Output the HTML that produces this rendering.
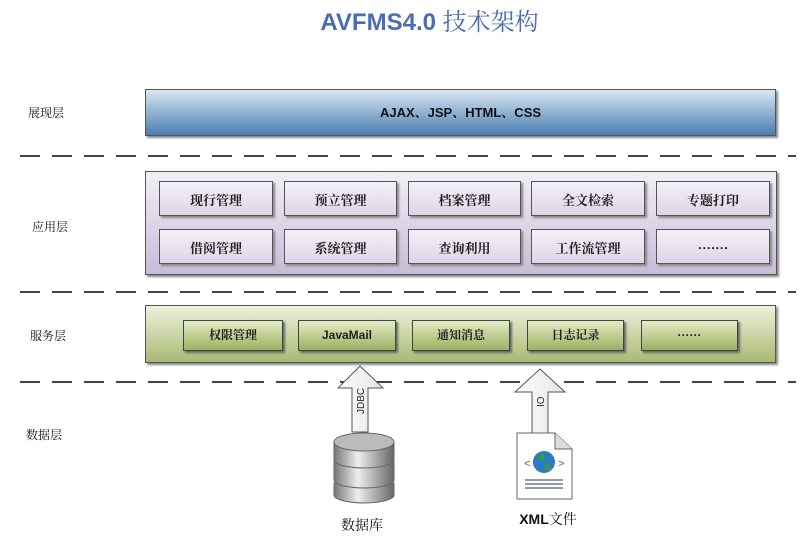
<!DOCTYPE html>
<html><head><meta charset="utf-8"><style>
body{margin:0;width:809px;height:542px;background:#fff;position:relative;overflow:hidden;font-family:"Liberation Sans","Noto Serif CJK SC","Noto Sans CJK SC",sans-serif}
.a{position:absolute}
.lbl{position:absolute;font-size:12px;color:#111;font-family:"Noto Serif CJK SC","Noto Sans CJK SC",serif}
.pb{position:absolute;height:35px;border:1px solid #555;background:linear-gradient(#f4f1f8,#ddd5e8);box-shadow:2px 2px 2px #888;font-size:13px;text-align:center;line-height:35px;color:#222;font-family:"Noto Serif CJK SC",serif;font-weight:bold;box-sizing:border-box}
.gb{position:absolute;height:31px;top:320px;border:1px solid #444;background:linear-gradient(#e3ecc4,#9cb061);box-shadow:2px 2px 2px #666;font-size:12px;text-align:center;line-height:29px;color:#222;box-sizing:border-box;font-weight:bold}
</style></head><body>
<div class="a" style="left:0;width:809px;top:2px;text-align:center;font-size:24px;font-weight:bold;color:#4a6cb3;padding-left:50px;box-sizing:border-box">AVFMS4.0 <span style="font-family:'Noto Serif CJK SC',serif;font-weight:normal">技术架构</span></div>
<div class="lbl" style="left:28px;top:104px">展现层</div>
<div class="lbl" style="left:32px;top:218px">应用层</div>
<div class="lbl" style="left:30px;top:327px">服务层</div>
<div class="lbl" style="left:26px;top:426px">数据层</div>
<div class="a" style="left:145px;top:89px;width:631px;height:47px;border:1px solid #555;box-sizing:border-box;background:linear-gradient(#d8e6f2,#4a7db0);box-shadow:2px 2px 2px #888;text-align:center;line-height:46px;font-size:13px;font-weight:bold;color:#111">AJAX、JSP、HTML、CSS</div>
<div class="a" style="left:145px;top:171px;width:632px;height:104px;border:1px solid #555;box-sizing:border-box;background:linear-gradient(#f2eff7,#c8bcd8);box-shadow:2px 2px 2px #888"></div>
<div class="pb" style="left:159px;top:181px;width:114px">现行管理</div>
<div class="pb" style="left:284px;top:181px;width:113px">预立管理</div>
<div class="pb" style="left:408px;top:181px;width:113px">档案管理</div>
<div class="pb" style="left:531px;top:181px;width:114px">全文检索</div>
<div class="pb" style="left:656px;top:181px;width:114px">专题打印</div>
<div class="pb" style="left:159px;top:229px;width:114px">借阅管理</div>
<div class="pb" style="left:284px;top:229px;width:113px">系统管理</div>
<div class="pb" style="left:408px;top:229px;width:113px">查询利用</div>
<div class="pb" style="left:531px;top:229px;width:114px">工作流管理</div>
<div class="pb" style="left:656px;top:229px;width:114px">·······</div>
<div class="a" style="left:145px;top:305px;width:631px;height:58px;border:1px solid #555;box-sizing:border-box;background:linear-gradient(#eef2dc,#a9ba73);box-shadow:2px 2px 2px #888"></div>
<div class="gb" style="left:183px;width:100px">权限管理</div>
<div class="gb" style="left:298px;width:98px">JavaMail</div>
<div class="gb" style="left:412px;width:98px">通知消息</div>
<div class="gb" style="left:527px;width:97px">日志记录</div>
<div class="gb" style="left:641px;width:97px">······</div>
<svg class="a" style="left:0;top:0" width="809" height="542">
<defs><linearGradient id="ar" x1="0" x2="1"><stop offset="0" stop-color="#fff"/><stop offset="1" stop-color="#e4e4e4"/></linearGradient>
<linearGradient id="cy" x1="0" x2="1"><stop offset="0" stop-color="#777"/><stop offset=".4" stop-color="#eee"/><stop offset="1" stop-color="#666"/></linearGradient></defs>
<g stroke="#444" stroke-width="2" stroke-dasharray="20,12">
<line x1="20" y1="156" x2="796" y2="156"/>
<line x1="20" y1="292" x2="796" y2="292"/>
<line x1="20" y1="382" x2="796" y2="382"/>
</g>
<polygon points="360,366 383,388 368,388 368,432 352,432 352,388 338,388" fill="url(#ar)" stroke="#555"/>
<text x="0" y="0" transform="translate(364,414) rotate(-90)" font-size="10" fill="#222" font-family="Liberation Sans">JDBC</text>
<polygon points="540,369 565,392 548,392 548,434 532,434 532,392 515,392" fill="url(#ar)" stroke="#555"/>
<text x="0" y="0" transform="translate(544,407) rotate(-90)" font-size="10" fill="#222" font-family="Liberation Sans">IO</text>
<g stroke="#666" stroke-width="1">
<path d="M334,483 v12 a30,8 0 0 0 60,0 v-12 z" fill="url(#cy)"/>
<path d="M334,462 v18 a30,8 0 0 0 60,0 v-18 z" fill="url(#cy)"/>
<path d="M334,442 v18 a30,8 0 0 0 60,0 v-18 z" fill="url(#cy)"/>
<ellipse cx="364" cy="442" rx="30" ry="9" fill="#bbb"/>
</g>
<path d="M517,433 h38 l17,16 v50 h-55 z" fill="#fff" stroke="#666"/>
<path d="M555,433 v16 h17" fill="#ddd" stroke="#666"/>
<circle cx="544" cy="462" r="11" fill="#2a7bc7"/>
<path d="M537,456 q5,-4 9,0 q-2,5 -6,4 z M545,464 q5,0 6,5 q-4,3 -7,0 z" fill="#3a9a3a"/>
<text x="524" y="467" font-size="11" fill="#2a6bb7">&lt;</text><text x="558" y="467" font-size="11" fill="#2a6bb7">&gt;</text>
<g stroke="#223377"><line x1="525" y1="480" x2="563" y2="480"/><line x1="525" y1="484" x2="563" y2="484"/><line x1="525" y1="488" x2="563" y2="488"/></g>
<text x="362" y="530" text-anchor="middle" font-size="14" font-family="Noto Serif CJK SC,serif" fill="#111">数据库</text>
<text x="548" y="524" text-anchor="middle" font-size="14" font-weight="bold" font-family="Liberation Sans,Noto Sans CJK SC,sans-serif" fill="#111">XML<tspan font-weight="normal" font-family="Noto Serif CJK SC,serif">文件</tspan></text>
</svg>
</body></html>
